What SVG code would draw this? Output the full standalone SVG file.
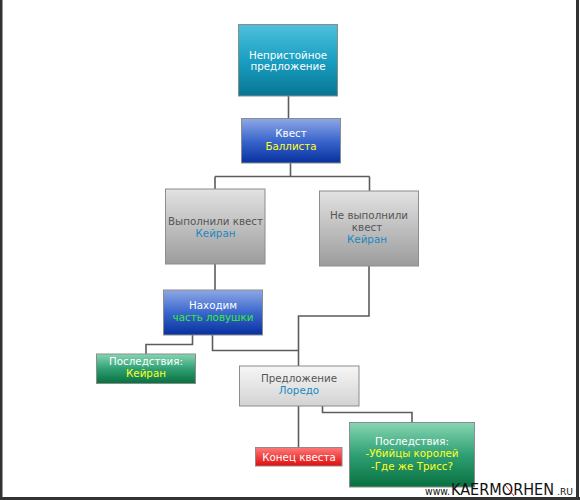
<svg xmlns="http://www.w3.org/2000/svg" width="580" height="500" viewBox="0 0 580 500">
<defs>
<linearGradient id="gTeal" x1="0" y1="0" x2="0" y2="1"><stop offset="0" stop-color="#4ec0dc"/><stop offset="0.5" stop-color="#1a9fc2"/><stop offset="1" stop-color="#087594"/></linearGradient>
<linearGradient id="gBlue" x1="0" y1="0" x2="0" y2="1"><stop offset="0" stop-color="#8ea8e6"/><stop offset="0.5" stop-color="#3b67cc"/><stop offset="1" stop-color="#06309e"/></linearGradient>
<linearGradient id="gGray" x1="0" y1="0" x2="0" y2="1"><stop offset="0" stop-color="#e2e2e2"/><stop offset="1" stop-color="#9c9c9c"/></linearGradient>
<linearGradient id="gLight" x1="0" y1="0" x2="0" y2="1"><stop offset="0" stop-color="#f6f6f6"/><stop offset="1" stop-color="#d3d3d3"/></linearGradient>
<linearGradient id="gGreen" x1="0" y1="0" x2="0" y2="1"><stop offset="0" stop-color="#86d6b2"/><stop offset="0.5" stop-color="#2fa074"/><stop offset="1" stop-color="#08703f"/></linearGradient>
<linearGradient id="gRed" x1="0" y1="0" x2="0" y2="1"><stop offset="0" stop-color="#ff7a7a"/><stop offset="1" stop-color="#e00c0c"/></linearGradient>
</defs>
<style>
text{font-family:"DejaVu Sans",Verdana,sans-serif;font-size:10.3px;text-anchor:middle}
.box{stroke:#8c8c8c;stroke-width:1}
.w{fill:#ffffff}.y{fill:#ffff22}.g{fill:#33f033}.b{fill:#1a88c0}.d{fill:#555555}
.c{fill:none;stroke:#5c5c5c;stroke-width:1.6}
</style>
<rect x="0" y="0" width="580" height="500" fill="#ffffff"/>
<g id="frame" fill="#333333">
<rect x="0" y="0" width="2.5" height="500"/>
<rect x="576" y="0" width="3" height="500"/>
<rect x="0" y="497" width="580" height="3"/>
</g>
<g id="connectors">
<path class="c" d="M288.5 96V118"/>
<path class="c" d="M290.5 163V176.5M215 176.5H369.5M215 176.5V189M369.5 176.5V191"/>
<path class="c" d="M215 264V290"/>
<path class="c" d="M192.5 335V344.5H146V354"/>
<path class="c" d="M212.5 335V350.5H299"/>
<path class="c" d="M369 266V316H298.5V366"/>
<path class="c" d="M298.5 406V447"/>
<path class="c" d="M322.5 406V412.5H412V422"/>
</g>
<g id="n1"><rect class="box" x="238.5" y="24.5" width="99" height="71.5" fill="url(#gTeal)"/><text class="w" x="288" y="58.5">Непристойное</text><text class="w" x="288" y="70">предложение</text></g>
<g id="n2"><rect class="box" x="241.5" y="118.5" width="99" height="44.5" fill="url(#gBlue)"/><text class="w" x="291" y="137">Квест</text><text class="y" x="291" y="150">Баллиста</text></g>
<g id="n3"><rect class="box" x="165.5" y="189" width="99.5" height="75" fill="url(#gGray)"/><text class="d" x="215.5" y="224.5">Выполнили квест</text><text class="b" x="215.5" y="236.5">Кейран</text></g>
<g id="n4"><rect class="box" x="319.5" y="191" width="99" height="75" fill="url(#gGray)"/><text class="d" x="369" y="219">Не выполнили</text><text class="d" x="367" y="230.5">квест</text><text class="b" x="367" y="242.5">Кейран</text></g>
<g id="n5"><rect class="box" x="163.5" y="290" width="99" height="45" fill="url(#gBlue)"/><text class="w" x="213" y="309">Находим</text><text class="g" x="213" y="321">часть ловушки</text></g>
<g id="n6"><rect class="box" x="96.5" y="354" width="99" height="29.5" fill="url(#gGreen)"/><text class="w" x="146" y="365">Последствия:</text><text class="y" x="146" y="376.5">Кейран</text></g>
<g id="n7"><rect class="box" x="239.5" y="366" width="119.5" height="40" fill="url(#gLight)"/><text class="d" x="299" y="381.5">Предложение</text><text class="b" x="299" y="393.5">Лоредо</text></g>
<g id="n8"><rect class="box" x="255.5" y="447.5" width="86.5" height="18.5" fill="url(#gRed)"/><text class="w" x="299" y="460.5">Конец квеста</text></g>
<g id="n9"><rect class="box" x="349.5" y="422.5" width="125" height="64.5" fill="url(#gGreen)"/><text class="w" x="412" y="444.5">Последствия:</text><text class="y" x="412" y="457">-Убийцы королей</text><text class="y" x="412" y="470">-Где же Трисс?</text></g>
<g id="logo">
<text x="425" y="495" style="text-anchor:start;font-size:10px;fill:#111" textLength="25" lengthAdjust="spacingAndGlyphs">www.</text>
<text x="451" y="495" style="text-anchor:start;font-size:15px;fill:#111" textLength="103" lengthAdjust="spacingAndGlyphs">KAERMORHEN</text>
<text x="557" y="495" style="text-anchor:start;font-size:8px;fill:#111" textLength="16" lengthAdjust="spacingAndGlyphs">.RU</text>
<path d="M505 485L514 496" stroke="#d02020" stroke-width="1" fill="none"/>
</g>
</svg>
